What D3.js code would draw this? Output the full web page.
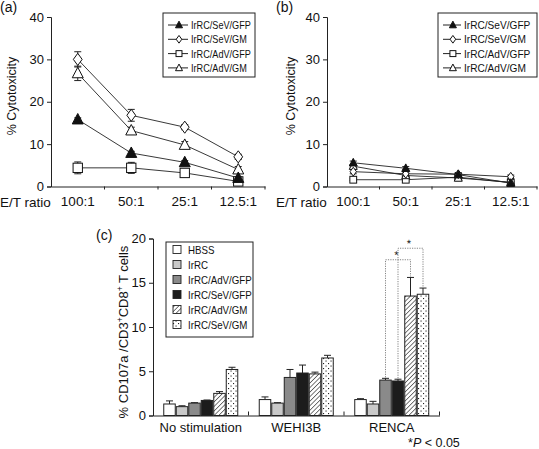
<!DOCTYPE html>
<html><head><meta charset="utf-8">
<script src="https://cdn.jsdelivr.net/npm/d3@7"></script>
<style>
body{margin:0;background:#fff;}
svg{font-family:Arial,"Liberation Sans",sans-serif;}
</style></head><body>
<svg id="c" width="539" height="449"></svg>
<script>
// ---------- data ----------
const ratios = ["100:1","50:1","25:1","12.5:1"];
const lineSeries = ["IrRC/SeV/GFP","IrRC/SeV/GM","IrRC/AdV/GFP","IrRC/AdV/GM"];
const lineSymbols = ["triFilled","diamond","square","triOpen"];
// panel (a)
const aSeVGFP = [15.8, 7.9, 5.7, 2.0];
const aSeVGM  = [30.0, 16.8, 14.0, 7.0];
const aAdVGFP = [4.4, 4.4, 3.2, 1.2];
const aAdVGM  = [26.7, 13.2, 9.8, 4.0];
const aErr = [[0.4,0.4,0.4,0.3],[1.8,1.4,0.6,0.6],[1.4,1.3,0.7,0.3],[1.7,0.8,0.8,0.7]];
// panel (b)
const bSeVGFP = [5.6, 4.3, 2.8, 0.8];
const bSeVGM  = [3.5, 3.0, 2.9, 2.3];
const bAdVGFP = [1.6, 1.6, 2.2, 0.9];
const bAdVGM  = [4.8, 2.6, 2.0, 1.0];
const bErr = [[0.4,0.4,0.3,0.2],[0.5,0.4,0.4,0.4],[0.2,0.3,0.5,0.2],[0.4,0.5,0.6,0.3]];
const yTicksAB = [0,10,20,30,40];
// panel (c)
const groups = ["No stimulation","WEHI3B","RENCA"];
const barSeries = ["HBSS","IrRC","IrRC/AdV/GFP","IrRC/SeV/GFP","IrRC/AdV/GM","IrRC/SeV/GM"];
const cHBSS   = [1.3, 1.8, 1.8];
const cIrRC   = [1.0, 1.4, 1.3];
const cAdVGFP = [1.4, 4.3, 4.0];
const cSeVGFP = [1.7, 4.8, 3.9];
const cAdVGM  = [2.5, 4.7, 13.5];
const cSeVGM  = [5.2, 6.5, 13.7];
const cErr = [[0.35,0.3,0.1],[0.1,0.05,0.3],[0.05,0.9,0.2],[0.05,0.9,0.2],[0.2,0.2,2.1],[0.25,0.3,0.7]];
const yTicksC = [0,5,10,15,20];
// significance: [seriesIndexA, seriesIndexB, bracket height] in RENCA group
const sigPairs = [[2,4,17.6],[3,5,18.9]];

const svg = d3.select("#c");
const defs = svg.append("defs");
const hatch = defs.append("pattern").attr("id","hatch").attr("patternUnits","userSpaceOnUse")
  .attr("width",3.2).attr("height",3.2).attr("patternTransform","rotate(45)");
hatch.append("rect").attr("width",3.2).attr("height",3.2).attr("fill","#fff");
hatch.append("line").attr("x1",0).attr("y1",0).attr("x2",0).attr("y2",3.2).attr("stroke","#222").attr("stroke-width",1.2);
const dots = defs.append("pattern").attr("id","dots").attr("patternUnits","userSpaceOnUse")
  .attr("width",5).attr("height",5);
dots.append("rect").attr("width",5).attr("height",5).attr("fill","#fff");
dots.append("rect").attr("x",0.5).attr("y",0.5).attr("width",1.1).attr("height",1.1).attr("fill","#222");
dots.append("rect").attr("x",3).attr("y",3).attr("width",1.1).attr("height",1.1).attr("fill","#222");
const barFills = ["#ffffff","#c9c9c9","#8a8a8a","#1c1c1c","url(#hatch)","url(#dots)"];

const ink = "#222";

function squeeze(sel, k){
  sel.each(function(){
    const w = this.getComputedTextLength();
    d3.select(this).attr("textLength", w*k).attr("lengthAdjust","spacingAndGlyphs");
  });
}

function marker(g, type, x, y, s){
  const h = s/2;
  if(type==="triFilled"||type==="triOpen"){
    g.append("path").attr("d",`M${x},${y-h*1.1}L${x+h},${y+h*0.8}L${x-h},${y+h*0.8}Z`)
     .attr("fill", type==="triFilled"?"#111":"#fff").attr("stroke","#111").attr("stroke-width",1);
  } else if(type==="diamond"){
    g.append("path").attr("d",`M${x},${y-h*1.1}L${x+h*0.8},${y}L${x},${y+h*1.1}L${x-h*0.8},${y}Z`)
     .attr("fill","#fff").attr("stroke","#111").attr("stroke-width",1);
  } else {
    g.append("rect").attr("x",x-h*0.85).attr("y",y-h*0.85).attr("width",h*1.7).attr("height",h*1.7)
     .attr("fill","#fff").attr("stroke","#111").attr("stroke-width",1);
  }
}

function linePanel(opts){
  const {label, x0, x1, data, errs, msize, legend, ylabX} = opts;
  const g = svg.append("g");
  const x = d3.scaleBand().domain(ratios).range([x0,x1]);
  const y = d3.scaleLinear().domain([0,40]).range([186.5,17]);
  // axes
  const ya = g.append("g").attr("transform",`translate(${x0},0)`)
    .call(d3.axisLeft(y).tickValues(yTicksAB).tickSize(4).tickPadding(3));
  ya.select(".domain").attr("stroke",ink);
  ya.selectAll(".tick line").attr("stroke",ink);
  ya.selectAll("text").attr("font-size",13).attr("fill","#111").attr("font-family","Arial,'Liberation Sans'");
  const xa = g.append("g").attr("transform",`translate(0,${y(0)})`)
    .call(d3.axisBottom(x).tickSize(0).tickPadding(10));
  xa.select(".domain").attr("stroke",ink);
  xa.selectAll("text").attr("font-size",13.5).attr("fill","#111").attr("font-family","Arial,'Liberation Sans'");
  ratios.forEach((r,i)=>{ if(i>0) g.append("line").attr("x1",x(r)).attr("x2",x(r)).attr("y1",y(0)).attr("y2",y(0)+3).attr("stroke",ink);});
  g.append("line").attr("x1",x1).attr("x2",x1).attr("y1",y(0)).attr("y2",y(0)+3).attr("stroke",ink);
  // labels
  g.append("text").attr("x",x0-51).attr("y",207).attr("font-size",13.5).attr("fill","#111").text("E/T ratio");
  g.append("text").attr("transform",`translate(${ylabX},96) rotate(-90)`).attr("text-anchor","middle")
    .attr("font-size",12.5).attr("fill","#111").text("% Cytotoxicity");
  g.append("text").attr("x",x0-51).attr("y",11.5).attr("font-size",14).attr("fill","#111").text(label);
  const cx = d => x(d)+x.bandwidth()/2;
  // lines
  data.forEach((vals,si)=>{
    g.append("path").datum(vals).attr("fill","none").attr("stroke","#222").attr("stroke-width",0.9)
      .attr("d", d3.line().x((v,i)=>cx(ratios[i])).y(v=>y(v)));
  });
  // error bars
  data.forEach((vals,si)=>{
    vals.forEach((v,i)=>{
      const e = errs[si][i], xc = cx(ratios[i]);
      g.append("line").attr("x1",xc).attr("x2",xc).attr("y1",y(v-e)).attr("y2",y(v+e)).attr("stroke","#222");
      [v-e,v+e].forEach(t=>g.append("line").attr("x1",xc-3.5).attr("x2",xc+3.5).attr("y1",y(t)).attr("y2",y(t)).attr("stroke","#222"));
    });
  });
  // markers (draw back to front)
  [2,3,1,0].forEach(si=>{
    data[si].forEach((v,i)=>marker(g, lineSymbols[si], cx(ratios[i]), y(v), msize));
  });
  // legend
  const L = legend;
  g.append("rect").attr("x",L.x).attr("y",L.y).attr("width",L.w).attr("height",L.h)
    .attr("fill","#fff").attr("stroke","#222").attr("stroke-width",1);
  lineSeries.forEach((s,i)=>{
    const yy = L.y+12+i*14.3;
    g.append("line").attr("x1",L.x+5).attr("x2",L.x+L.lineW).attr("y1",yy).attr("y2",yy).attr("stroke","#222");
    marker(g, lineSymbols[i], L.x+5+(L.lineW-5)*0.55, yy, 7);
    const t = g.append("text").attr("x",L.x+L.lineW+3).attr("y",yy+4).attr("font-size",11).attr("fill","#111").text(s);
    squeeze(t, L.k);
  });
}

linePanel({label:"(a)", x0:51, x1:265, data:[aSeVGFP,aSeVGM,aAdVGFP,aAdVGM], errs:aErr, msize:11,
  legend:{x:163,y:13,w:92,h:64,lineW:25,k:0.83}, ylabX:16});
linePanel({label:"(b)", x0:327, x1:537, data:[bSeVGFP,bSeVGM,bAdVGFP,bAdVGM], errs:bErr, msize:8,
  legend:{x:438,y:13,w:99,h:64,lineW:23,k:0.92}, ylabX:295});

// ---------- panel (c) ----------
(function(){
  const g = svg.append("g");
  const x0 = 153, x1 = 439.5;
  const x = d3.scaleBand().domain(groups).range([x0,x1]);
  const xs = d3.scaleBand().domain(barSeries).range([0,x.bandwidth()]).paddingOuter(0.82).paddingInner(0);
  const y = d3.scaleLinear().domain([0,20]).range([415.5,238.5]);
  const cols = [cHBSS,cIrRC,cAdVGFP,cSeVGFP,cAdVGM,cSeVGM];
  const ya = g.append("g").attr("transform",`translate(${x0},0)`)
    .call(d3.axisLeft(y).tickValues(yTicksC).tickSize(4).tickPadding(3));
  ya.select(".domain").attr("stroke",ink);
  ya.selectAll(".tick line").attr("stroke",ink);
  ya.selectAll("text").attr("font-size",13).attr("fill","#111").attr("font-family","Arial,'Liberation Sans'");
  const xa = g.append("g").attr("transform",`translate(0,${y(0)})`)
    .call(d3.axisBottom(x).tickSize(0).tickPadding(7));
  xa.select(".domain").attr("stroke",ink);
  xa.selectAll("text").attr("font-size",13).attr("fill","#111").attr("font-family","Arial,'Liberation Sans'");
  groups.forEach((gr,i)=>{ if(i>0) g.append("line").attr("x1",x(gr)).attr("x2",x(gr)).attr("y1",y(0)).attr("y2",y(0)-4).attr("stroke",ink);});
  g.append("line").attr("x1",x1).attr("x2",x1).attr("y1",y(0)).attr("y2",y(0)-4).attr("stroke",ink);
  const bx = (gi,si) => x(groups[gi]) + xs(barSeries[si]);
  const bw = xs.bandwidth();
  // error bars (up only)
  cols.forEach((vals,si)=>vals.forEach((v,gi)=>{
    const xc = bx(gi,si)+bw/2, e = cErr[si][gi];
    g.append("line").attr("x1",xc).attr("x2",xc).attr("y1",y(v)).attr("y2",y(v+e)).attr("stroke","#222");
    g.append("line").attr("x1",xc-3.5).attr("x2",xc+3.5).attr("y1",y(v+e)).attr("y2",y(v+e)).attr("stroke","#222");
  }));
  // bars
  cols.forEach((vals,si)=>vals.forEach((v,gi)=>{
    g.append("rect").attr("x",bx(gi,si)+0.5).attr("y",y(v)).attr("width",bw-1).attr("height",y(0)-y(v))
      .attr("fill",barFills[si]).attr("stroke","#222").attr("stroke-width",1);
  }));
  // significance brackets in RENCA
  sigPairs.forEach(([a,b,h])=>{
    const xa_ = bx(2,a)+bw/2, xb_ = bx(2,b)+bw/2;
    const ta = y(cols[a][2]+cErr[a][2])-1, tb = y(cols[b][2]+cErr[b][2])-1;
    g.append("path").attr("d",`M${xa_},${ta}V${y(h)}H${xb_}V${tb}`).attr("fill","none")
      .attr("stroke","#777").attr("stroke-width",0.9).attr("stroke-dasharray","1.2,1.2");
    g.append("text").attr("transform",`translate(${(xa_+xb_)/2-1.5},${y(h)-1}) rotate(0.3)`).attr("text-anchor","middle")
      .attr("font-size",11).attr("fill","#111").text("*");
  });
  // legend
  g.append("rect").attr("x",166).attr("y",242).attr("width",87).attr("height",95)
    .attr("fill","#fff").attr("stroke","#222");
  barSeries.forEach((s,i)=>{
    const yy = 249.5+i*15;
    g.append("rect").attr("x",173).attr("y",yy-4).attr("width",8).attr("height",8)
      .attr("fill",barFills[i]).attr("stroke","#222").attr("stroke-width",0.9);
    const t = g.append("text").attr("x",188).attr("y",yy+4).attr("font-size",10.8).attr("fill","#111").text(s);
    squeeze(t, 0.9);
  });
  // axis label
  const yl = g.append("text").attr("transform",`translate(127.5,332) rotate(-90)`).attr("text-anchor","middle")
    .attr("font-size",13).attr("fill","#111");
  yl.append("tspan").text("% CD107a /CD3");
  yl.append("tspan").attr("baseline-shift","super").attr("font-size",8.5).text("+");
  yl.append("tspan").text("CD8");
  yl.append("tspan").attr("baseline-shift","super").attr("font-size",8.5).text("+");
  yl.append("tspan").text(" T cells");
  g.append("text").attr("x",96).attr("y",240).attr("font-size",14).attr("fill","#111").text("(c)");
  const p = g.append("text").attr("x",408).attr("y",446.5).attr("font-size",12.5).attr("fill","#111");
  p.append("tspan").text("*");
  p.append("tspan").attr("font-style","italic").text("P");
  p.append("tspan").text(" < 0.05");
})();
</script>
</body></html>
